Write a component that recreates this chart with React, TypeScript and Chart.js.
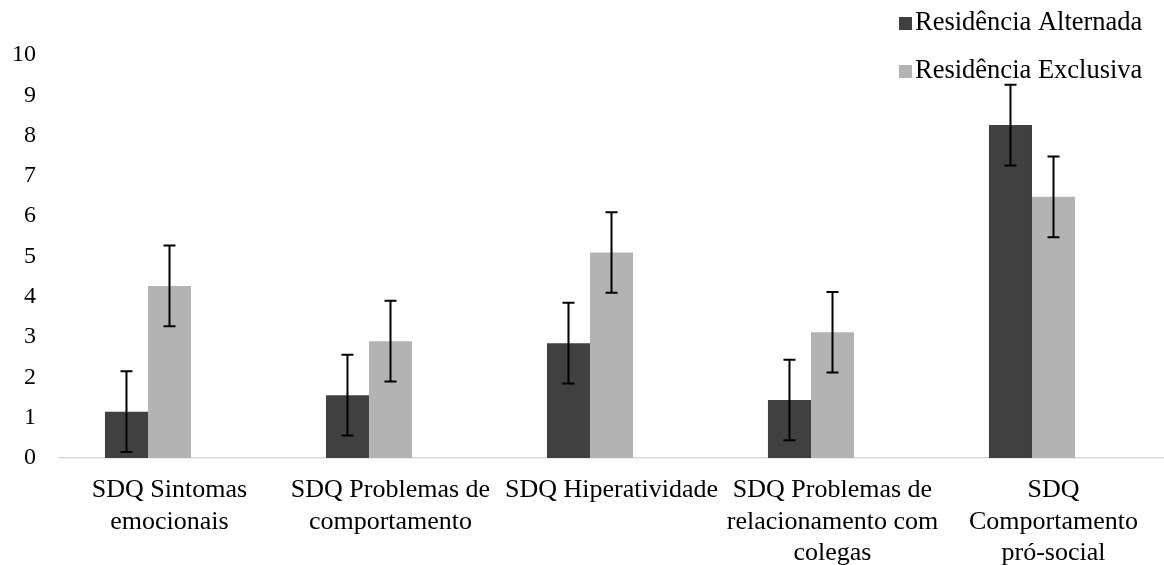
import React, { useEffect, useRef } from 'react';
import { Chart, registerables } from 'chart.js';

Chart.register(...registerables);

const categories: string[][] = [
  ['SDQ Sintomas', 'emocionais'],
  ['SDQ Problemas de', 'comportamento'],
  ['SDQ Hiperatividade'],
  ['SDQ Problemas de', 'relacionamento com', 'colegas'],
  ['SDQ', 'Comportamento', 'pró-social'],
];
const seriesNames = ['Residência Alternada', 'Residência Exclusiva'];
const alternada = [1.15, 1.56, 2.85, 1.44, 8.26];
const exclusiva = [4.27, 2.9, 5.1, 3.12, 6.48];
const errAlternada = [1, 1, 1, 1, 1];
const errExclusiva = [1, 1, 1, 1, 1];
const emptySeries = [null, null, null, null, null];
const yTicks = [0, 1, 2, 3, 4, 5, 6, 7, 8, 9, 10];

const COLORS = ['#404040', '#b3b3b3'];
const FONT = "'Liberation Serif', 'Times New Roman', serif";

const errorBarPlugin = {
  id: 'errorBars',
  afterDatasetsDraw(chart: any) {
    const ctx = chart.ctx;
    const y = chart.scales.y;
    [errAlternada, errExclusiva].forEach((errs, di) => {
      const meta = chart.getDatasetMeta(di);
      const vals = chart.data.datasets[di].data as number[];
      meta.data.forEach((bar: any, i: number) => {
        const v = vals[i];
        const e = errs[i];
        const top = y.getPixelForValue(v + e);
        const bot = y.getPixelForValue(v - e);
        ctx.save();
        ctx.strokeStyle = '#000';
        ctx.lineWidth = 2;
        ctx.beginPath();
        ctx.moveTo(bar.x, top);
        ctx.lineTo(bar.x, bot);
        ctx.moveTo(bar.x - 6, top);
        ctx.lineTo(bar.x + 6, top);
        ctx.moveTo(bar.x - 6, bot);
        ctx.lineTo(bar.x + 6, bot);
        ctx.stroke();
        ctx.restore();
      });
    });
  },
};

const legendPlugin = {
  id: 'customLegend',
  afterDraw(chart: any) {
    const ctx = chart.ctx;
    ctx.save();
    ctx.font = `26.5px ${FONT}`;
    ctx.textAlign = 'left';
    ctx.textBaseline = 'alphabetic';
    seriesNames.forEach((name, i) => {
      const baseY = 30 + i * 48;
      ctx.fillStyle = COLORS[i];
      ctx.fillRect(899, baseY - 13, 13, 13);
      ctx.fillStyle = '#000';
      ctx.fillText(name, 915, baseY);
    });
    ctx.restore();
  },
};

export default function App() {
  const ref = useRef<HTMLCanvasElement | null>(null);

  useEffect(() => {
    document.body.style.margin = '0';
    if (!ref.current) return;
    const chart = new Chart(ref.current, {
      type: 'bar',
      data: {
        labels: categories,
        datasets: [
          { label: seriesNames[0], data: alternada, backgroundColor: COLORS[0], borderWidth: 0 },
          { label: seriesNames[1], data: exclusiva, backgroundColor: COLORS[1], borderWidth: 0 },
          { label: '', data: emptySeries as any, backgroundColor: 'rgba(0,0,0,0)', borderWidth: 0 },
        ],
      },
      options: {
        responsive: false,
        animation: false,
        layout: { padding: { top: 55, left: 0, right: 0, bottom: 0 } },
        datasets: { bar: { categoryPercentage: 0.584, barPercentage: 1 } },
        plugins: { legend: { display: false }, tooltip: { enabled: false } },
        scales: {
          x: {
            grid: { display: false, drawTicks: false },
            border: { display: true, color: '#d9d9d9', width: 1.5 },
            ticks: {
              color: '#000',
              padding: 17,
              maxRotation: 0,
              autoSkip: false,
              font: { family: FONT, size: 26, lineHeight: 1.2 },
            },
            afterFit: (s: any) => { s.height = 107; },
          },
          y: {
            min: 0,
            max: 10,
            afterBuildTicks: (s: any) => { s.ticks = yTicks.map((v) => ({ value: v })); },
            grid: { display: false, drawTicks: false },
            border: { display: false },
            ticks: {
              color: '#000',
              padding: 23,
              font: { family: FONT, size: 24 },
            },
            afterFit: (s: any) => { s.width = 59; },
          },
        },
      },
      plugins: [errorBarPlugin, legendPlugin],
    });
    return () => chart.destroy();
  }, []);

  return (
    <div style={{ position: 'absolute', left: 0, top: 0, width: 1164, height: 565 }}>
      <canvas ref={ref} width={1164} height={565} style={{ display: 'block' }} />
    </div>
  );
}
